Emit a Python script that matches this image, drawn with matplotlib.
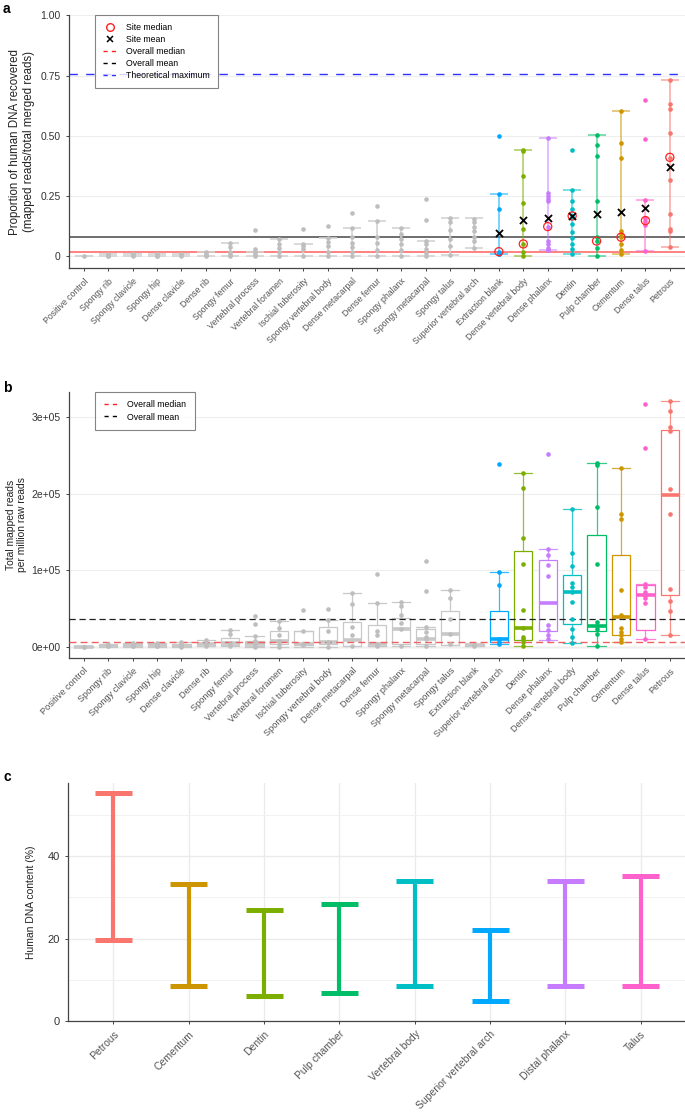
import matplotlib
matplotlib.use("Agg")
import matplotlib.pyplot as plt
from matplotlib.lines import Line2D
import numpy as np

plt.rcParams['font.family'] = ['Liberation Sans', 'DejaVu Sans']

GREY = "#BEBEBE"
GREY_LINE = "#D3D3D3"
TXT = "#333333"

# ---------------- panel a data ----------------
a_sites = ["Positive control", "Spongy rib", "Spongy clavicle", "Spongy hip", "Dense clavicle",
           "Dense rib", "Spongy femur", "Vertebral process", "Vertebral foramen", "Ischial tuberosity",
           "Spongy vertebral body", "Dense metacarpal", "Dense femur", "Spongy phalanx",
           "Spongy metacarpal", "Spongy talus", "Superior vertebral arch", "Extraction blank",
           "Dense vertebral body", "Dense phalanx", "Dentin", "Pulp chamber", "Cementum",
           "Dense talus", "Petrous"]
a_colors = [GREY] * 17 + ["#00A9FF", "#7CAE00", "#C77CFF", "#00BFC4", "#00BE67",
                          "#CD9600", "#FF61CC", "#F8766D"]
a_points = [
    [0.0],
    [0.0, 0.004, 0.008, 0.01],
    [0.0, 0.005, 0.01, 0.012],
    [0.0, 0.004, 0.01],
    [0.0, 0.006, 0.012],
    [0.0, 0.008, 0.012, 0.017],
    [0.0, 0.01, 0.02, 0.038, 0.055],
    [0.0, 0.01, 0.02, 0.03, 0.109],
    [0.0, 0.02, 0.037, 0.05, 0.071],
    [0.003, 0.03, 0.045, 0.053, 0.115],
    [0.003, 0.02, 0.045, 0.06, 0.078, 0.128],
    [0.003, 0.02, 0.038, 0.055, 0.079, 0.117, 0.179],
    [0.003, 0.027, 0.055, 0.079, 0.146, 0.21],
    [0.003, 0.027, 0.05, 0.074, 0.093, 0.12],
    [0.0, 0.016, 0.033, 0.05, 0.063, 0.15, 0.237],
    [0.005, 0.045, 0.071, 0.11, 0.142, 0.158],
    [0.037, 0.063, 0.082, 0.106, 0.121, 0.142, 0.156],
    [0.009, 0.012, 0.015, 0.02, 0.197, 0.257, 0.50],
    [0.003, 0.02, 0.052, 0.115, 0.223, 0.334, 0.437, 0.44],
    [0.025, 0.027, 0.035, 0.05, 0.063, 0.124, 0.23, 0.24, 0.25, 0.262, 0.49],
    [0.009, 0.03, 0.05, 0.075, 0.1, 0.135, 0.168, 0.196, 0.232, 0.276, 0.443],
    [0.003, 0.035, 0.064, 0.079, 0.232, 0.418, 0.464, 0.504],
    [0.009, 0.025, 0.05, 0.08, 0.094, 0.106, 0.41, 0.47, 0.604],
    [0.024, 0.13, 0.149, 0.16, 0.234, 0.485, 0.649],
    [0.038, 0.106, 0.114, 0.175, 0.317, 0.41, 0.51, 0.611, 0.633, 0.73],
]
a_whislo = [0, 0, 0, 0, 0, 0, 0, 0, 0, 0, 0.003, 0.003, 0.003, 0.003, 0, 0.005, 0.037,
            0.009, 0.003, 0.027, 0.009, 0.003, 0.009, 0.024, 0.038]
a_whishi = [0, 0.01, 0.012, 0.01, 0.012, 0.017, 0.055, 0.02, 0.071, 0.053, 0.078, 0.117, 0.146,
            0.12, 0.063, 0.158, 0.158, 0.257, 0.44, 0.49, 0.276, 0.504, 0.604, 0.234, 0.73]
site_median = [0.02, 0.052, 0.124, 0.168, 0.064, 0.08, 0.149, 0.411]
site_mean = [0.099, 0.151, 0.16, 0.166, 0.175, 0.186, 0.2, 0.37]
a_overall_median = 0.018
a_overall_mean = 0.081
theoretical_max = 0.757

# ---------------- panel b data (thousands of reads) ----------------
b_sites = ["Positive control", "Spongy rib", "Spongy clavicle", "Spongy hip", "Dense clavicle",
           "Dense rib", "Spongy femur", "Vertebral process", "Vertebral foramen", "Ischial tuberosity",
           "Spongy vertebral body", "Dense metacarpal", "Dense femur", "Spongy phalanx",
           "Spongy metacarpal", "Spongy talus", "Extraction blank", "Superior vertebral arch",
           "Dentin", "Dense phalanx", "Dense vertebral body", "Pulp chamber", "Cementum",
           "Dense talus", "Petrous"]
b_colors = [GREY] * 17 + ["#00A9FF", "#7CAE00", "#C77CFF", "#00BFC4", "#00BE67",
                          "#CD9600", "#FF61CC", "#F8766D"]
b_whislo = [0, 0, 0, 0, 0, 0.5, 0.5, 0, 0, 0, 0, 1, 1, 1, 1, 2.2, 1, 4, 1, 8.7, 5.2, 1, 5.6, 10, 15.3]
b_q1 = [0, 0.5, 0.5, 0.5, 0.5, 1.5, 2, 1, 4, 2, 3, 1, 1, 3.1, 3.1, 2.2, 1.5, 6.5, 8.7, 20.9, 29.6,
        20.9, 15.3, 21.7, 67.4]
b_med = [0, 1, 1.5, 1.5, 1.5, 3, 4.3, 3, 8, 4, 6, 8.7, 3.5, 22.7, 10, 16.1, 2, 9.6, 24.8, 57.4,
         70.9, 27, 39.1, 67.4, 198.7]
b_q3 = [0.5, 2.5, 3, 3.5, 4, 5, 11, 8, 20, 20, 26, 32.6, 28.3, 37.8, 22.7, 46.5, 2.5, 46.5, 125.2,
        113.1, 94.4, 145.6, 120.4, 81.3, 283.8]
b_whishi = [0.5, 4, 5, 5, 6, 9, 22, 14, 34, 20, 35, 69.6, 56.5, 58.7, 25.3, 73.9, 3, 97.8, 226.9,
            127.4, 180.4, 239.9, 234.3, 81.7, 321.6]
b_points = [
    [0.0, 0.2],
    [0.5, 1, 2, 4],
    [0.5, 1.5, 3, 5],
    [0.5, 1.5, 3.5, 5],
    [0, 1.5, 4, 6],
    [0.5, 3, 5, 9],
    [0.5, 4, 16, 22],
    [0, 3, 8, 14, 30, 40],
    [0, 4, 8, 15, 25, 34],
    [2, 4, 20, 48],
    [0, 6, 20, 35, 49],
    [1, 15.3, 25.3, 55.3, 69.6],
    [1, 3.5, 15.3, 20.9, 56.5, 95.7],
    [1, 22.7, 30.4, 41.3, 53.5, 58.7],
    [1, 10, 13, 19.6, 25.3, 72.6, 111.7],
    [3, 16.1, 35.7, 63.9, 73.9],
    [1.5, 2.5],
    [4, 6.5, 9.6, 10, 81.3, 97.8, 239.5],
    [1, 6.5, 10, 13, 24.8, 47.8, 107.8, 142.6, 207.3, 226.9],
    [10, 15.3, 21.7, 28.3, 92.6, 106.5, 119.6, 127.4, 252.5],
    [5.2, 13, 22.7, 35.7, 58.3, 70.9, 78.3, 83.5, 105.5, 122.9, 180.4],
    [1, 17, 22.7, 27, 32.2, 108.7, 182.6, 238, 239.9],
    [6.5, 10, 15.3, 19.6, 23.9, 41.3, 73.9, 167.4, 173.9, 234.3],
    [10, 56.5, 63.9, 67.4, 70.9, 78.3, 81.7, 259.5, 318],
    [15.3, 46.5, 60, 74.8, 173.9, 206.5, 282.5, 286.8, 307.7, 321.6],
]
b_overall_median = 6.5
b_overall_mean = 35.7

# ---------------- panel c data ----------------
c_sites = ["Petrous", "Cementum", "Dentin", "Pulp chamber", "Vertebral body",
           "Superior vertebral arch", "Distal phalanx", "Talus"]
c_colors = ["#F8766D", "#CD9600", "#7CAE00", "#00BE67", "#00BFC4", "#00A9FF", "#C77CFF", "#FF61CC"]
c_low = [19.6, 8.4, 6.1, 6.7, 8.4, 4.7, 8.5, 8.5]
c_high = [55.4, 33.3, 26.9, 28.4, 34.0, 22.2, 34.0, 35.3]

fig = plt.figure(figsize=(6.85, 11.15), dpi=100)
W, H = 685, 1115


def add_ax(left, top, right, bottom):
    return fig.add_axes([left / W, 1 - bottom / H, (right - left) / W, (bottom - top) / H])


def style_ax(ax):
    for s in ["top", "right"]:
        ax.spines[s].set_visible(False)
    for s in ["left", "bottom"]:
        ax.spines[s].set_color("#444444")
        ax.spines[s].set_linewidth(0.9)
    ax.tick_params(colors="#444444", length=2.5, width=0.7, labelcolor=TXT)
    ax.set_axisbelow(True)


# ================= panel a =================
ax = add_ax(69, 15, 684.5, 268.3)
style_ax(ax)
n = len(a_sites)
xs = np.arange(n)
for i in range(n):
    col = a_colors[i]
    lcol = GREY_LINE if col == GREY else col
    lal = 1.0 if col == GREY else 0.6
    ax.vlines(i, a_whislo[i], a_whishi[i], color=lcol, alpha=lal, lw=1.2, zorder=2)
    ax.hlines([a_whislo[i], a_whishi[i]], i - 0.37, i + 0.37, color=lcol, alpha=lal, lw=1.2, zorder=2)
    ax.scatter(np.full(len(a_points[i]), i), a_points[i], s=11, color=col, lw=0, zorder=3)
ax.axhline(a_overall_mean, color="#555555", lw=1.2, zorder=1)
ax.axhline(a_overall_median, color="#FF6060", lw=1.1, zorder=1)
ax.axhline(theoretical_max, color="#3030FF", lw=1.0, ls=(0, (6, 6)), zorder=1)
ax.scatter(xs[17:], site_median, s=34, facecolor="none", edgecolor="#FF2020", lw=0.9, zorder=5)
ax.scatter(xs[17:], site_mean, s=26, marker="x", color="black", lw=1.3, zorder=6)
ax.set_xlim(-0.6, n - 0.4)
ax.set_ylim(-0.049, 1.001)
ax.set_yticks([0, 0.25, 0.5, 0.75, 1.0])
ax.set_yticklabels(["0", "0.25", "0.50", "0.75", "1.00"], fontsize=7.5)
ax.yaxis.grid(True, color="#EEEEEE", lw=0.8)
ax.set_xticks(xs)
ax.set_xticklabels(a_sites, rotation=45, ha="right", rotation_mode="anchor", fontsize=6.3,
                   color="#555555")
ax.set_ylabel("Proportion of human DNA recovered\n(mapped reads/total merged reads)",
              fontsize=8.3, labelpad=4, color="#222222")
handles = [
    Line2D([], [], ls="none", marker="o", markerfacecolor="none", markeredgecolor="#FF2020",
           markersize=5.5),
    Line2D([], [], ls="none", marker="x", color="black", markersize=5, markeredgewidth=1.1),
    Line2D([], [], color="#FF2020", ls=(0, (3, 3)), lw=1),
    Line2D([], [], color="black", ls=(0, (3, 3)), lw=1),
    Line2D([], [], color="#3030FF", ls=(0, (3, 3)), lw=1),
]
leg = ax.legend(handles, ["Site median", "Site mean", "Overall median", "Overall mean",
                          "Theoretical maximum"],
                loc="upper left", bbox_to_anchor=(0.043, 1.0), borderaxespad=0, fontsize=6.3,
                frameon=True, fancybox=False, handlelength=1.6, labelspacing=0.35,
                borderpad=0.9, handletextpad=1.0)
leg.get_frame().set_edgecolor("#666666")
leg.get_frame().set_linewidth(0.8)
fig.text(3 / W, 1 - 9 / H, "a", fontsize=10, fontweight="bold", va="center")

# ================= panel b =================
ax = add_ax(69, 391.7, 684.5, 657.7)
style_ax(ax)
n = len(b_sites)
xs = np.arange(n)
stats = []
for i in range(n):
    stats.append(dict(med=b_med[i] * 1e3, q1=b_q1[i] * 1e3, q3=b_q3[i] * 1e3,
                      whislo=b_whislo[i] * 1e3, whishi=b_whishi[i] * 1e3, fliers=[]))
bp = ax.bxp(stats, positions=xs, widths=0.75, showfliers=False, patch_artist=True,
            capwidths=0.75, manage_ticks=False)
for i in range(n):
    col = b_colors[i]
    grey = col == GREY
    ecol = "#C8C8C8" if grey else col
    box = bp["boxes"][i]
    box.set_facecolor("white")
    box.set_edgecolor(ecol)
    box.set_linewidth(0.9)
    bp["medians"][i].set_color("#C8C8C8" if grey else col)
    bp["medians"][i].set_linewidth(2.6)
    for art in bp["whiskers"][2 * i:2 * i + 2] + bp["caps"][2 * i:2 * i + 2]:
        art.set_color(ecol)
        art.set_linewidth(0.9)
        if not grey:
            art.set_alpha(0.8)
    pts = np.array(b_points[i]) * 1e3
    ax.scatter(np.full(len(pts), i), pts, s=11, color=col, lw=0, zorder=4)
ax.axhline(0, color="#BBBBBB", lw=0.9, zorder=0.5)
ax.axhline(b_overall_median * 1e3, color="#F06060", lw=1.0, ls=(0, (5, 3)), zorder=3.5)
ax.axhline(b_overall_mean * 1e3, color="#222222", lw=0.9, ls=(0, (5, 3)), zorder=3.5)
ax.set_xlim(-0.6, n - 0.4)
ax.set_ylim(-14.4e3, 333.5e3)
ax.set_yticks([0, 1e5, 2e5, 3e5])
ax.set_yticklabels(["0e+00", "1e+05", "2e+05", "3e+05"], fontsize=7.5)
ax.yaxis.grid(True, color="#EEEEEE", lw=0.8)
ax.set_xticks(xs)
ax.set_xticklabels(b_sites, rotation=45, ha="right", rotation_mode="anchor", fontsize=6.6,
                   color="#555555")
ax.set_ylabel("Total mapped reads\nper million raw reads", fontsize=7.4, labelpad=3,
              color="#222222")
handles = [Line2D([], [], color="#FF2020", ls=(0, (3, 3)), lw=1),
           Line2D([], [], color="black", ls=(0, (3, 3)), lw=1)]
leg = ax.legend(handles, ["Overall median", "Overall mean"], loc="upper left",
                bbox_to_anchor=(0.043, 1.0), borderaxespad=0, fontsize=6.3, frameon=True,
                fancybox=False, handlelength=1.6, labelspacing=0.35, borderpad=1.0,
                handletextpad=1.0)
leg.get_frame().set_edgecolor("#666666")
leg.get_frame().set_linewidth(0.8)
fig.text(3 / W, 1 - 388 / H, "b", fontsize=10, fontweight="bold", va="center")

# ================= panel c =================
ax = add_ax(68.3, 783.3, 684.5, 1020.7)
style_ax(ax)
n = len(c_sites)
xs = np.arange(n)
ax.vlines(xs, c_low, c_high, colors=c_colors, lw=3.0, zorder=3)
ax.hlines(c_low, xs - 0.245, xs + 0.245, colors=c_colors, lw=3.6, zorder=3)
ax.hlines(c_high, xs - 0.245, xs + 0.245, colors=c_colors, lw=3.6, zorder=3)
ax.set_xlim(-0.6, n - 0.42)
ax.set_ylim(0, 57.8)
ax.set_yticks([0, 20, 40])
ax.set_yticks([10, 30, 50], minor=True)
ax.set_yticklabels(["0", "20", "40"], fontsize=8)
ax.tick_params(axis="y", which="minor", length=0)
ax.grid(True, which="major", color="#EBEBEB", lw=1.0)
ax.grid(True, which="minor", axis="y", color="#F2F2F2", lw=0.7)
ax.set_xticks(xs)
ax.set_xticklabels(c_sites, rotation=45, ha="right", rotation_mode="anchor", fontsize=7.5,
                   color="#555555")
ax.set_ylabel("Human DNA content (%)", fontsize=7.5, labelpad=8, color="#222222")
fig.text(3 / W, 1 - 777 / H, "c", fontsize=10, fontweight="bold", va="center")

fig.savefig("out.png", dpi=100)
